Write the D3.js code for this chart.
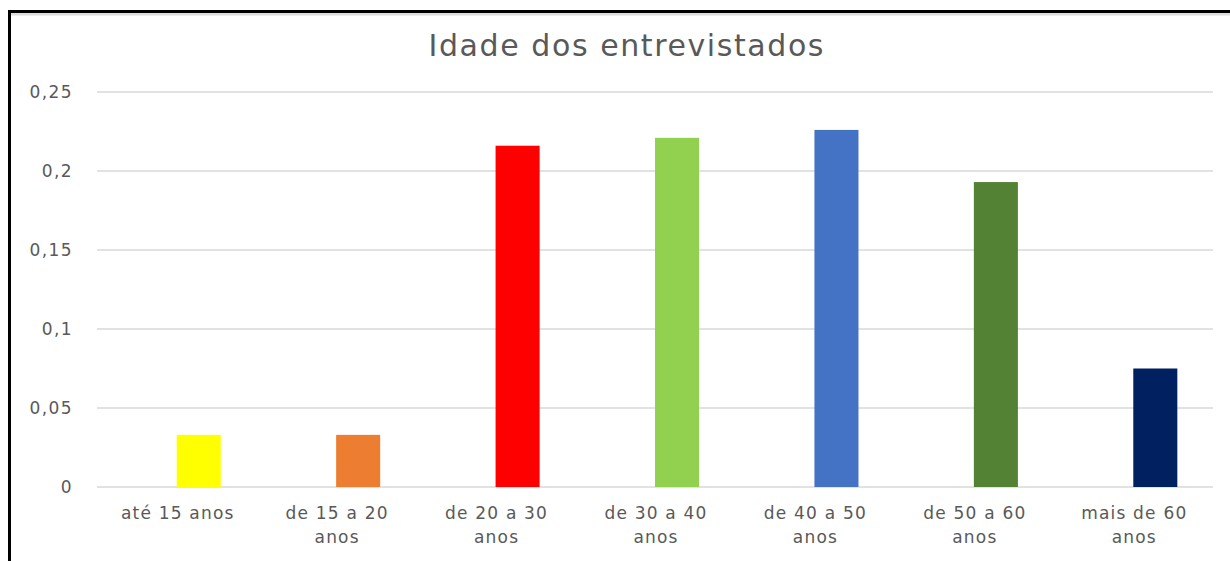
<!DOCTYPE html>
<html>
<head>
<meta charset="utf-8">
<script src="https://cdn.jsdelivr.net/npm/d3@7"></script>
<style>
  html, body { margin: 0; padding: 0; background: #fff; }
  svg { display: block; font-family: "DejaVu Sans", sans-serif; }
</style>
</head>
<body>
<svg id="chart" width="1230" height="561"></svg>
<script>
// Dados
const categorias = ["até 15 anos", "de 15 a 20 anos", "de 20 a 30 anos", "de 30 a 40 anos",
                    "de 40 a 50 anos", "de 50 a 60 anos", "mais de 60 anos"];
const valores = [0.033, 0.033, 0.216, 0.221, 0.226, 0.193, 0.075];
const cores = ["#ffff00", "#ed7d31", "#ff0000", "#92d050", "#4472c4", "#548235", "#002060"];
const ticksY = [0, 0.05, 0.1, 0.15, 0.2, 0.25];
const titulo = "Idade dos entrevistados";

const width = 1230, height = 561;
const margin = { top: 92, right: 17, bottom: 74, left: 97 };

const svg = d3.select("#chart");

// moldura (só topo e esquerda aparecem na imagem)
svg.append("line")
    .attr("x1", 8).attr("x2", width).attr("y1", 13.5).attr("y2", 13.5)
    .attr("stroke", "#dcdcdc").attr("stroke-width", 4);
svg.append("path")
    .attr("d", `M9.5,${height} V11.5 H${width}`)
    .attr("fill", "none").attr("stroke", "#000").attr("stroke-width", 3);

const x = d3.scaleBand()
    .domain(categorias)
    .range([margin.left, width - margin.right]);

// duas séries lado a lado, a primeira vazia (as barras ficam à direita do centro)
const xSub = d3.scaleBand()
    .domain(["vazio", "valor"])
    .range([0, x.bandwidth()])
    .paddingOuter(0.81);

const y = d3.scaleLinear()
    .domain([0, 0.25])
    .range([height - margin.bottom, margin.top]);

// grade
svg.append("g")
    .selectAll("line")
    .data(ticksY)
    .join("line")
    .attr("x1", margin.left).attr("x2", width - margin.right)
    .attr("y1", d => y(d)).attr("y2", d => y(d))
    .attr("stroke", "#d9d9d9").attr("stroke-width", 1.3);

// eixo y
const fmt = d => d3.format("")(d).replace(".", ",");
svg.append("g")
    .selectAll("text")
    .data(ticksY)
    .join("text")
    .attr("x", 73)
    .attr("y", d => y(d) + 6)
    .attr("text-anchor", "end")
    .attr("fill", "#595959")
    .attr("font-size", 17)
    .attr("letter-spacing", 1.4)
    .text(fmt);

// barras
svg.append("g")
    .selectAll("rect")
    .data(valores)
    .join("rect")
    .attr("x", (d, i) => x(categorias[i]) + xSub("valor"))
    .attr("width", xSub.bandwidth())
    .attr("y", d => y(d))
    .attr("height", d => y(0) - y(d))
    .attr("fill", (d, i) => cores[i]);

// rótulos das categorias, quebrados em duas linhas quando longos
const rotulos = svg.append("g")
    .selectAll("text")
    .data(categorias)
    .join("text")
    .attr("text-anchor", "middle")
    .attr("fill", "#595959")
    .attr("font-size", 17)
    .attr("letter-spacing", 1.2)
    .attr("transform", d => `translate(${x(d) + x.bandwidth() / 2 + 1},519)`);

rotulos.each(function(d) {
    const t = d3.select(this);
    const palavras = d.split(" ");
    let linhas = [d];
    if (d.length > 12) {
        linhas = [palavras.slice(0, -1).join(" "), palavras[palavras.length - 1]];
    }
    linhas.forEach((l, k) => {
        t.append("tspan").attr("x", 0).attr("y", k * 24).text(l);
    });
});

// título
svg.append("text")
    .attr("x", 626)
    .attr("y", 56)
    .attr("text-anchor", "middle")
    .attr("fill", "#595959")
    .attr("font-size", 30)
    .attr("textLength", 395)
    .attr("lengthAdjust", "spacing")
    .text(titulo);
</script>
</body>
</html>
